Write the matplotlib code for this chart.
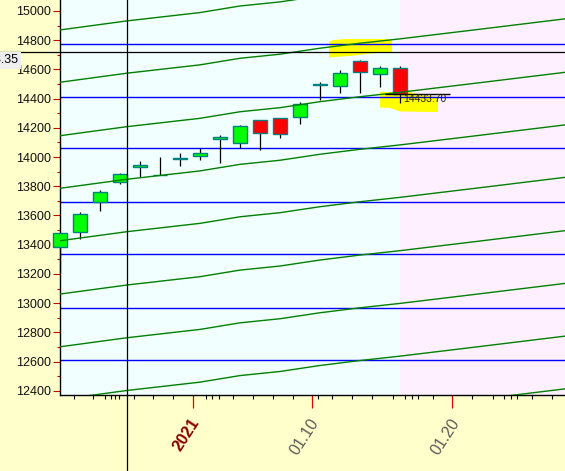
import numpy as np
import matplotlib.pyplot as plt
from matplotlib.transforms import ScaledTranslation

plt.rcParams['font.family'] = ['Liberation Sans', 'DejaVu Sans']

# velas (una por sesion)
opens  = [13386, 13489, 13690, 13831, 13930, 13877, 13985, 14009, 14122,
          14094, 14254, 14265, 14276, 14492, 14489, 14658, 14567, 14608]
highs  = [13489, 13622, 13774, 13893, 13973, 14002, 14030, 14060, 14151,
          14219, 14256, 14267, 14375, 14512, 14596, 14664, 14625, 14623]
lows   = [13208, 13437, 13631, 13818, 13861, 13876, 13941, 13980, 13959,
          14060, 14048, 14128, 14226, 14391, 14441, 14441, 14482, 14370]
closes = [13478, 13608, 13759, 13884, 13946, 13878, 13996, 14026, 14139,
          14213, 14163, 14156, 14361, 14503, 14575, 14584, 14608, 14433.70]
velas_x = np.arange(len(opens))

# niveles horizontales azules
niveles_azul = [14774, 14413, 14061, 13692, 13336, 12968, 12608]

# curvas verdes: nivel inicial + forma comun de subida
niveles_verde = [14870, 14512, 14146, 13786, 13427, 13062, 12701, 12340, 11979]
curva_x = [0, 3.35, 7, 9, 11, 13, 15, 17, 21, 25.25]
curva_sube = [0, 62, 119, 164, 192, 233, 267, 297, 363, 434]

# ejes
y_major = list(range(12400, 15001, 200))
y_minor = list(range(12500, 15000, 200))
x_major = [6.67, 12.58, 19.62]
x_labels = ['2021', '01.10', '01.20']
x_minor = [0.70, 1.67, 2.25, 2.54, 2.74, 2.95, 3.70, 4.67, 5.67, 7.29, 7.62,
           7.95, 8.67, 9.67, 10.67, 11.67, 12.92, 13.62, 14.62, 15.62, 16.63,
           17.25, 17.59, 17.89, 18.64, 20.62, 21.64, 22.22, 22.55, 22.87,
           23.62, 24.62]

# cruz del cursor y zona futura
cruz_x = 3.35
cruz_y = 14718.35
inicio_rosa = 17

# marcas amarillas (resaltados a mano)
amarillo1_x = [13.45, 13.65, 14.25, 16.25, 16.6, 16.6, 15.75, 14.5, 13.45]
amarillo1_y = [14788, 14801, 14808, 14808, 14801, 14719, 14712, 14692, 14682]
amarillo2_x = [16.0, 17.5, 18.0, 18.9, 18.9, 17.0, 16.5, 16.0]
amarillo2_y = [14445, 14445, 14425, 14411, 14308, 14312, 14336, 14339]

fig = plt.figure(figsize=(5.65, 4.71), dpi=100, facecolor='#FFFFCC')
ax = fig.add_axes([60/565, 76/471, 505/565, 395/471], facecolor='#F2FFFF')

ax.axvspan(inicio_rosa, 25.25, color='#FFF0FF', lw=0, zorder=0)

ax.fill(amarillo1_x, amarillo1_y, color='#FFFF00', lw=0, zorder=1)
ax.fill(amarillo2_x, amarillo2_y, color='#FFFF00', lw=0, zorder=1)

for lvl in niveles_azul:
    ax.axhline(lvl, color='#0000FF', lw=1.0, zorder=2)

colores = ['#00FF00' if c >= o else '#FF0000' for o, c in zip(opens, closes)]
ax.vlines(velas_x, lows, highs, color='black', lw=0.9, zorder=3, clip_on=False)
ax.bar(velas_x, np.array(closes) - np.array(opens), bottom=opens, width=0.74,
       color=colores, edgecolor='#008080', linewidth=1.0, zorder=4, clip_on=False)

for lvl in niveles_verde:
    ax.plot(curva_x, np.array(curva_sube) + lvl, color='#008000', lw=1.0, zorder=5)

# cruz
ax.axvline(cruz_x, ymin=-0.25, ymax=1, color='black', lw=0.9, clip_on=False, zorder=6)
ax.axhline(cruz_y, xmin=-0.15, xmax=1, color='black', lw=0.9, clip_on=False, zorder=6)
fig.text(18.5/565, 1 - 60/471, f'{cruz_y:.2f}', ha='right', va='center', fontsize=9,
         color='black', bbox=dict(boxstyle='square,pad=0.2', fc='#EEEEEE', ec='none'))

# ultimo cierre
ax.hlines(closes[-1], 16.25, 19.5, color='black', lw=1.0, zorder=6)
ax.text(17.15, closes[-1] - 34, f'{closes[-1]:.2f}', fontsize=7.5, va='center',
        ha='left', color='#222200', zorder=7)

ax.set_xlim(0, 25.25)
ax.set_ylim(12371, 15075)

for s in ['top', 'right']:
    ax.spines[s].set_visible(False)
for s in ['left', 'bottom']:
    ax.spines[s].set_color('black')
    ax.spines[s].set_linewidth(1.0)

ax.set_yticks(y_major)
ax.set_yticks(y_minor, minor=True)
ax.tick_params(axis='y', which='major', length=5, width=0.8, color='#CC0000',
               pad=1.5, labelsize=9, labelcolor='#111111')
ax.tick_params(axis='y', which='minor', length=2.5, width=0.8, color='#CC0000')

ax.set_xticks(x_major, x_labels)
ax.set_xticks(x_minor, minor=True)
ax.tick_params(axis='x', which='major', length=9.5, width=0.9, color='#DD0000', pad=5.5)
ax.tick_params(axis='x', which='minor', length=3, width=0.8, color='black')
desplaza = ScaledTranslation(-7/100, 0, fig.dpi_scale_trans)
for lbl in ax.get_xticklabels():
    lbl.set_rotation(57)
    lbl.set_ha('center')
    lbl.set_fontsize(11.5)
    lbl.set_transform(lbl.get_transform() + desplaza)
    if lbl.get_text() == '2021':
        lbl.set_color('#880000')
        lbl.set_fontweight('bold')
    else:
        lbl.set_color('#5A5A5A')

fig.savefig('out.png', dpi=100, facecolor=fig.get_facecolor())
